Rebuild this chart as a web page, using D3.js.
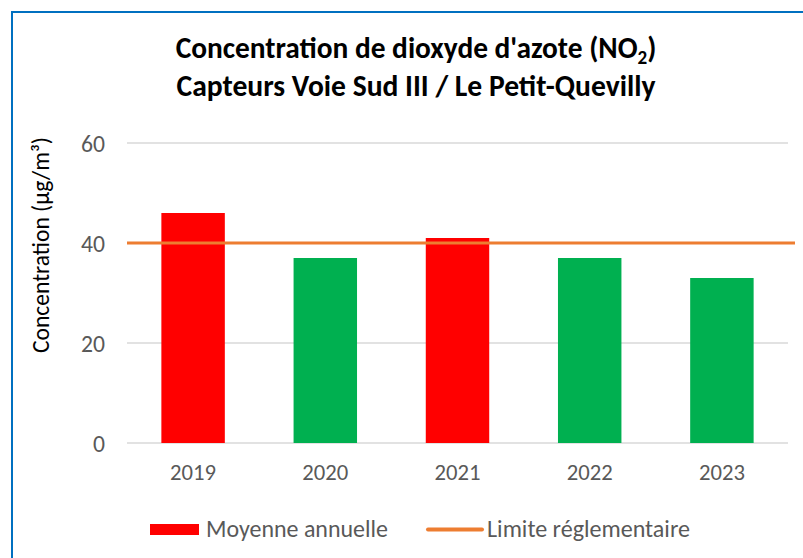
<!DOCTYPE html>
<html>
<head>
<meta charset="utf-8">
<script src="https://cdn.jsdelivr.net/npm/d3@7"></script>
<style>
  html, body { margin: 0; padding: 0; background: #fff; }
  svg { display: block; }
  text { font-family: Carlito, Lato, "Open Sans", sans-serif; }
</style>
</head>
<body>
<svg id="chart" width="803" height="558"></svg>
<script>
const years = ["2019", "2020", "2021", "2022", "2023"];
const annualMeans = [46, 37, 41, 37, 33];
const limitValue = 40;
const yTicks = [0, 20, 40, 60];
const titleLines = ["Concentration de dioxyde d'azote (NO", "Capteurs Voie Sud III / Le Petit-Quevilly"];
const legendLabels = ["Moyenne annuelle", "Limite réglementaire"];
const yAxisTitle = "Concentration (µg/m³)";

const W = 803, H = 558;
const svg = d3.select("#chart");
const textColor = "#595959";

// border
svg.append("rect").attr("x", 12).attr("y", 12).attr("width", W + 10).attr("height", H + 10)
  .attr("fill", "#fff").attr("stroke", "#0070C0").attr("stroke-width", 2);

const x = d3.scaleBand().domain(years).range([127, 788]).paddingInner(0.52).paddingOuter(0.26);
const y = d3.scaleLinear().domain([0, 60]).range([443, 143]);

function fit(sel, target) {
  const node = sel.node();
  const fs = parseFloat(sel.attr("font-size"));
  const w = node.getComputedTextLength();
  if (w > 0) sel.attr("font-size", (fs * target / w).toFixed(2));
}

// gridlines
svg.append("g").selectAll("line").data(yTicks).join("line")
  .attr("x1", 127).attr("x2", 788)
  .attr("y1", d => y(d)).attr("y2", d => y(d))
  .attr("stroke", "#d9d9d9").attr("stroke-width", 1.3);

// y tick labels
const yl = svg.append("g").selectAll("text").data(yTicks).join("text")
  .attr("x", 105).attr("y", d => y(d)).attr("dy", "0.36em")
  .attr("text-anchor", "end").attr("fill", textColor).attr("font-size", 20)
  .text(d => d);
fit(d3.select(yl.nodes()[3]), 24);
yl.attr("font-size", d3.select(yl.nodes()[3]).attr("font-size"));

// bars
svg.append("g").selectAll("rect").data(years).join("rect")
  .attr("x", d => x(d)).attr("width", x.bandwidth())
  .attr("y", (d, i) => y(annualMeans[i]))
  .attr("height", (d, i) => y(0) - y(annualMeans[i]))
  .attr("fill", (d, i) => annualMeans[i] > limitValue ? "#FF0000" : "#00B050");

// limit line
svg.append("line")
  .attr("x1", 127).attr("x2", 795)
  .attr("y1", y(limitValue)).attr("y2", y(limitValue))
  .attr("stroke", "#ED7D31").attr("stroke-width", 3);

// x labels
const xl = svg.append("g").selectAll("text").data(years).join("text")
  .attr("x", d => x(d) + x.bandwidth() / 2).attr("y", 480)
  .attr("text-anchor", "middle").attr("fill", textColor).attr("font-size", 20)
  .text(d => d);
fit(d3.select(xl.nodes()[0]), 46);
xl.attr("font-size", d3.select(xl.nodes()[0]).attr("font-size"));

// y axis title
const yt = svg.append("text")
  .attr("transform", "translate(49,245) rotate(-90)")
  .attr("text-anchor", "middle").attr("fill", "#000").attr("font-size", 20)
  .text(yAxisTitle);
fit(yt, 216);

// title
const t1 = svg.append("text").attr("x", 416).attr("y", 58).attr("text-anchor", "middle")
  .attr("font-weight", "bold").attr("font-size", 24).attr("fill", "#000");
t1.append("tspan").text(titleLines[0]);
t1.append("tspan").attr("font-size", "0.65em").attr("dy", "0.3em").text("2");
t1.append("tspan").attr("dy", "-0.2em").text(")");
const t2 = svg.append("text").attr("x", 416).attr("y", 96).attr("text-anchor", "middle")
  .attr("font-weight", "bold").attr("font-size", 24).attr("fill", "#000")
  .text(titleLines[1]);
fit(t1, 481);
fit(t2, 479);

// legend
const lg = svg.append("g");
lg.append("rect").attr("x", 150).attr("y", 524).attr("width", 49).attr("height", 11).attr("fill", "#FF0000");
const l1 = lg.append("text").attr("x", 206).attr("y", 537).attr("fill", textColor).attr("font-size", 20).text(legendLabels[0]);
fit(l1, 182);
lg.append("line").attr("x1", 428).attr("x2", 482).attr("y1", 529.5).attr("y2", 529.5)
  .attr("stroke", "#ED7D31").attr("stroke-width", 4).attr("stroke-linecap", "round");
const l2 = lg.append("text").attr("x", 487).attr("y", 537).attr("fill", textColor).attr("font-size", 20).text(legendLabels[1]);
fit(l2, 203);
</script>
</body>
</html>
